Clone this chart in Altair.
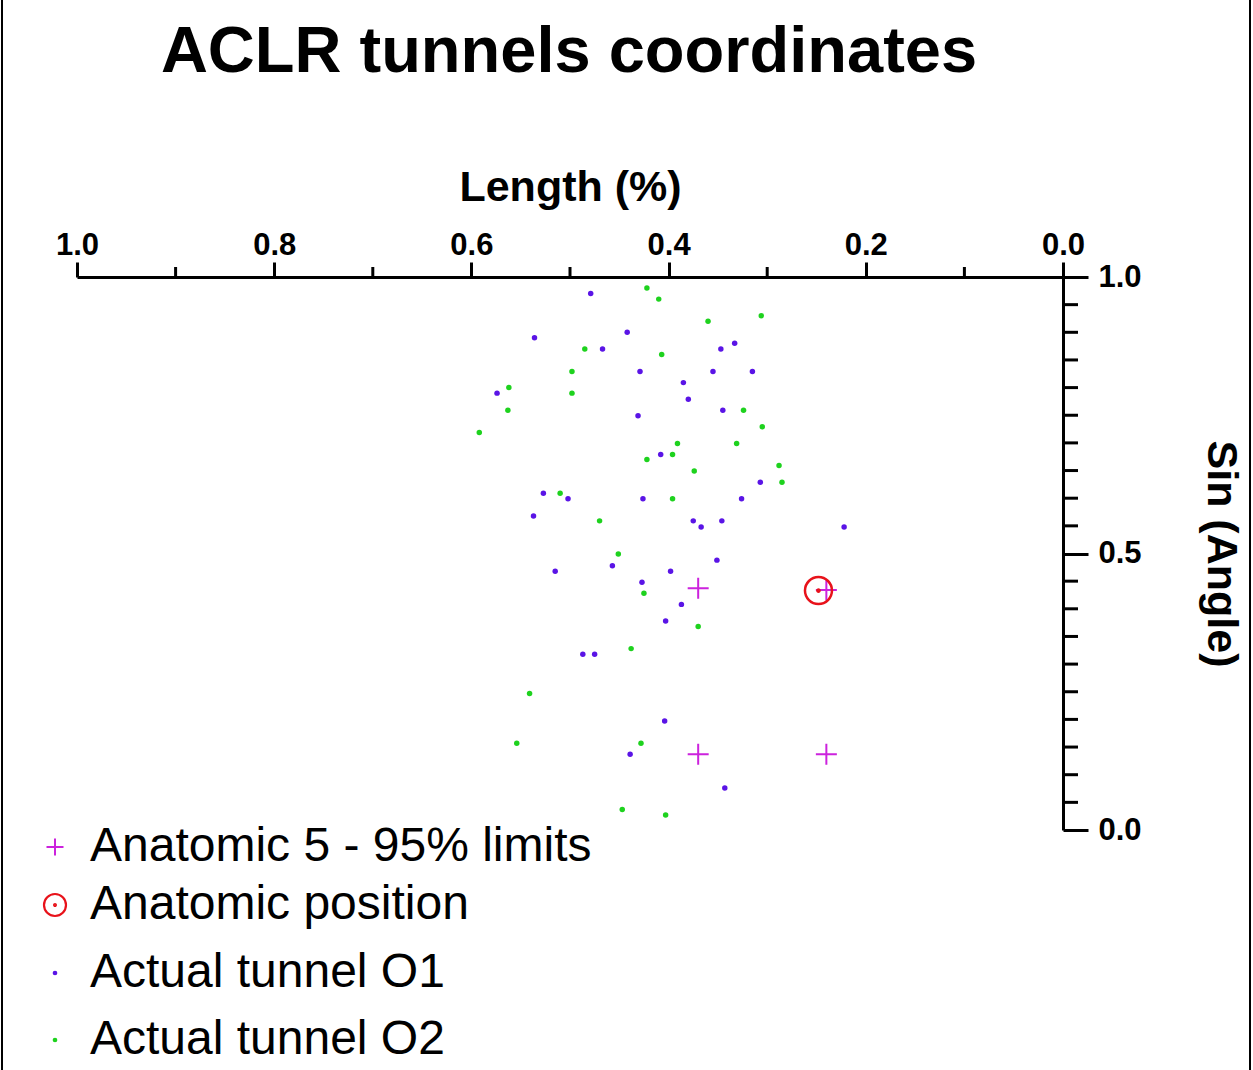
import altair as alt
import pandas as pd

# ---- data ----
o1_len = [0.479, 0.536, 0.442, 0.467, 0.347, 0.333, 0.429, 0.355, 0.315, 0.574,
          0.385, 0.380, 0.345, 0.431, 0.408, 0.307, 0.527, 0.502, 0.426, 0.326,
          0.537, 0.375, 0.367, 0.346, 0.222, 0.351, 0.457, 0.515, 0.398, 0.427,
          0.387, 0.403, 0.487, 0.475, 0.404, 0.439, 0.343]
o1_sin = [0.970, 0.890, 0.900, 0.870, 0.870, 0.880, 0.829, 0.829, 0.829, 0.790,
          0.809, 0.779, 0.759, 0.749, 0.679, 0.629, 0.609, 0.599, 0.599, 0.599,
          0.568, 0.559, 0.548, 0.559, 0.548, 0.488, 0.478, 0.468, 0.468, 0.448,
          0.408, 0.378, 0.318, 0.318, 0.197, 0.137, 0.076]

o2_len = [0.422, 0.410, 0.360, 0.306, 0.485, 0.407, 0.498, 0.498, 0.562, 0.563,
          0.592, 0.324, 0.305, 0.391, 0.331, 0.396, 0.422, 0.374, 0.288, 0.285,
          0.510, 0.396, 0.470, 0.451, 0.425, 0.370, 0.438, 0.541, 0.554, 0.428,
          0.447, 0.403]
o2_sin = [0.980, 0.960, 0.920, 0.930, 0.870, 0.860, 0.829, 0.790, 0.800, 0.759,
          0.719, 0.759, 0.729, 0.699, 0.699, 0.679, 0.670, 0.649, 0.659, 0.629,
          0.609, 0.599, 0.559, 0.499, 0.428, 0.368, 0.328, 0.247, 0.157, 0.157,
          0.037, 0.027]

limits_len = [0.370, 0.240, 0.370, 0.240]
limits_sin = [0.437, 0.434, 0.137, 0.137]

anat_len = [0.248]
anat_sin = [0.433]

series_names = ["Anatomic 5 - 95% limits", "Anatomic position",
                "Actual tunnel O1", "Actual tunnel O2"]

chart_title = "ACLR tunnels coordinates"

x_major = [0.0, 0.2, 0.4, 0.6, 0.8, 1.0]
x_minor = [0.1, 0.3, 0.5, 0.7, 0.9]
y_major = [0.0, 0.5, 1.0]
y_minor = [0.05, 0.10, 0.15, 0.20, 0.25, 0.30, 0.35, 0.40, 0.45,
           0.55, 0.60, 0.65, 0.70, 0.75, 0.80, 0.85, 0.90, 0.95]

# ---- styling ----
W, H = 986, 553
FONT = "Liberation Sans"
C_LIM = "#cc22dd"
C_ANAT = "#e8121a"
C_O1 = "#5a14e6"
C_O2 = "#1ed21e"

cross_path = "M-1,0H1M0,-1V1"
ring_dot_path = ("M1,0A1,1 0 1,1 -1,0A1,1 0 1,1 1,0Z"
                 "M0.08,0A0.08,0.08 0 1,1 -0.08,0A0.08,0.08 0 1,1 0.08,0Z")

xscale = alt.Scale(domain=[0, 1], reverse=True, nice=False, zero=False)
yscale = alt.Scale(domain=[0, 1], nice=False, zero=False)

xaxis = alt.Axis(orient="top", values=x_major, format=".1f",
                 tickSize=15, tickWidth=3, domainWidth=3,
                 labelPadding=1, labelFontSize=31, labelFontWeight="bold",
                 labelFont=FONT, labelFlush=False, labelOverlap=False,
                 title="Length (%)", titleFont=FONT, titleFontSize=43,
                 titleFontWeight="bold", titleX=W / 2, titleY=-77,
                 titleAlign="center", titleBaseline="alphabetic", grid=False)
yaxis = alt.Axis(orient="right", values=y_major, format=".1f",
                 tickSize=25, tickWidth=3, domainWidth=3,
                 labelPadding=10, labelFontSize=31, labelFontWeight="bold",
                 labelFont=FONT, labelFlush=False, labelOverlap=False,
                 title="Sin (Angle)", titleFont=FONT, titleFontSize=43,
                 titleFontWeight="bold", titleAngle=90, titleX=157,
                 titleY=H / 2, titleAlign="center", titleBaseline="middle",
                 grid=False)


def xy():
    return dict(x=alt.X("len:Q", scale=xscale, axis=xaxis),
                y=alt.Y("sin:Q", scale=yscale, axis=yaxis))


df_o1 = pd.DataFrame({"len": o1_len, "sin": o1_sin})
df_o2 = pd.DataFrame({"len": o2_len, "sin": o2_sin})
df_lim = pd.DataFrame({"len": limits_len, "sin": limits_sin})
df_anat = pd.DataFrame({"len": anat_len, "sin": anat_sin})

o1 = alt.Chart(df_o1).mark_circle(size=30, opacity=1, color=C_O1).encode(**xy())
o2 = alt.Chart(df_o2).mark_circle(size=30, opacity=1, color=C_O2).encode(**xy())
lim = alt.Chart(df_lim).mark_point(shape=cross_path, size=441, color=C_LIM,
                                   strokeWidth=2, opacity=1).encode(**xy())
anat = alt.Chart(df_anat).mark_point(shape=ring_dot_path, size=729, color=C_ANAT,
                                     strokeWidth=2.5, opacity=1).encode(**xy())

# minor ticks (unlabelled) on both axes
xminor = alt.Chart(pd.DataFrame({"len": x_minor})).mark_rule(
    color="black", strokeWidth=3).encode(
    x=alt.X("len:Q", scale=xscale, axis=xaxis),
    y=alt.value(-10), y2=alt.value(0))
yminor = alt.Chart(pd.DataFrame({"sin": y_minor})).mark_rule(
    color="black", strokeWidth=3).encode(
    y=alt.Y("sin:Q", scale=yscale, axis=yaxis),
    x=alt.value(W), x2=alt.value(W + 15))

one = pd.DataFrame({"k": [0]})

# chart title
title = alt.Chart(one).mark_text(
    text=chart_title, font=FONT, fontSize=65, fontWeight="bold", color="black",
    align="center", baseline="alphabetic").encode(
    x=alt.value(492), y=alt.value(-205))

# legend (drawn by hand, bottom-left)
leg_rows_y = [570, 628, 696, 763]
leg_sym_x = -22
leg_txt_x = 13
leg_layers = []
leg_syms = [
    dict(shape=cross_path, size=289, color=C_LIM, strokeWidth=2, filled=False),
    dict(shape=ring_dot_path, size=484, color=C_ANAT, strokeWidth=2.2, filled=False),
    dict(shape="circle", size=22, color=C_O1, filled=True, strokeWidth=0),
    dict(shape="circle", size=22, color=C_O2, filled=True, strokeWidth=0),
]
for name, ry, sym in zip(series_names, leg_rows_y, leg_syms):
    leg_layers.append(alt.Chart(one).mark_point(opacity=1, **sym).encode(
        x=alt.value(leg_sym_x), y=alt.value(ry)))
    leg_layers.append(alt.Chart(one).mark_text(
        text=name, font=FONT, fontSize=48, color="black",
        align="left", baseline="middle").encode(
        x=alt.value(leg_txt_x), y=alt.value(ry)))

# thin frame lines at the picture's left and right edges
border_l = alt.Chart(one).mark_rule(color="black", strokeWidth=2).encode(
    x=alt.value(-75), y=alt.value(-277), y2=alt.value(793))
border_r = alt.Chart(one).mark_rule(color="black", strokeWidth=2).encode(
    x=alt.value(1173), y=alt.value(-277), y2=alt.value(793))

chart = alt.layer(o1, o2, lim, anat, xminor, yminor, title, border_l, border_r,
                  *leg_layers).properties(
    width=W,
    height=H,
    autosize=alt.AutoSizeParams(type="none"),
    padding={"left": 77, "top": 277, "right": 190, "bottom": 240},
    background="white",
).configure_view(stroke=None).configure_axis(
    domainColor="black", tickColor="black", labelColor="black", titleColor="black"
)

chart.save("out.html", embed_options={"renderer": "svg", "actions": False})
